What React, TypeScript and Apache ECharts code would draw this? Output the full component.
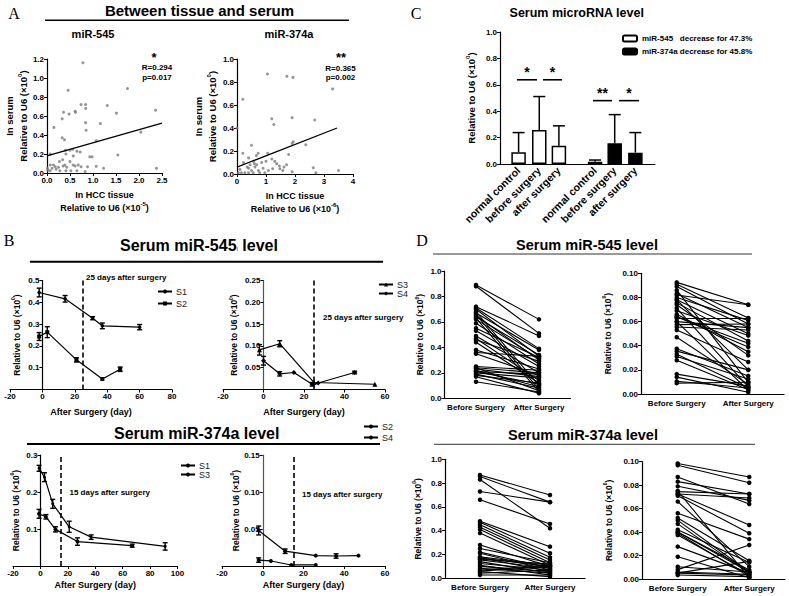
import React, { useEffect, useRef } from 'react';
import * as echarts from 'echarts';

const FONT = '"Liberation Sans", Arial, Helvetica, sans-serif';
const SERIF = '"Liberation Serif", "Times New Roman", serif';

// ---------------- Panel A : tissue vs serum scatter ----------------
const a545Points = [
  [0.78, 1.16], [0.46, 0.87], [1.75, 0.89], [0.74, 0.72], [0.84, 0.72], [0.84, 0.68], [1.31, 0.71],
  [0.61, 0.65], [0.62, 0.64], [0.36, 0.64], [0.48, 0.62], [0.33, 0.57], [2.36, 0.66], [1.51, 0.63],
  [0.84, 0.53], [0.15, 0.48], [0.85, 0.45], [1.16, 0.52], [0.33, 0.37], [0.38, 0.35], [2.04, 0.43],
  [1.07, 0.34], [0.40, 0.24], [0.50, 0.24], [0.56, 0.25], [0.41, 0.20], [0.07, 0.20], [1.54, 0.19],
  [0.93, 0.17], [0.98, 0.17], [0.72, 0.22], [0.65, 0.23], [0.27, 0.12], [0.34, 0.14], [0.50, 0.12],
  [0.57, 0.18], [1.07, 0.07], [1.23, 0.05], [2.38, 0.05], [0.07, 0.084], [0.14, 0.084], [0.18, 0.066],
  [0.11, 0.049], [0.07, 0.024], [0.20, 0.039], [0.25, 0.06], [0.28, 0.024], [0.35, 0.074], [0.39, 0.084],
  [0.43, 0.06], [0.57, 0.084], [0.61, 0.074], [0.41, 0.024], [0.52, 0.024], [0.65, 0.024], [0.74, 0.066],
  [0.68, 0.084], [0.02, 0.03], [0.01, 0.05], [0.83, 0.014], [0.88, 0.066],
];
const a545Fit = [[0, 0.18], [2.5, 0.525]];
const a374Points = [
  [1.05, 0.87], [1.72, 0.85], [1.93, 0.84], [3.3, 0.74], [0.2, 0.65], [1.2, 0.48], [1.27, 0.43],
  [1.9, 0.49], [2.68, 0.47], [0.0, 0.40], [2.37, 0.255], [1.94, 0.28], [1.9, 0.265], [0.5, 0.25],
  [0.2, 0.18], [0.73, 0.18], [1.06, 0.18], [1.78, 0.17], [3.5, 0.03], [2.63, 0.055], [2.72, 0.01],
  [1.9, 0.02], [1.2, 0.13], [1.3, 0.11], [1.37, 0.09], [1.46, 0.07], [1.62, 0.06], [1.48, 0.045],
  [1.23, 0.045], [1.71, 0.08], [0.22, 0.1], [0.4, 0.14], [0.45, 0.08], [0.57, 0.11], [0.68, 0.08],
  [0.4, 0.05], [0.5, 0.03], [0.62, 0.06], [0.74, 0.03], [0.9, 0.05], [0.1, 0.04], [0.15, 0.01],
  [0.27, 0.01], [0.4, 0.01], [0.56, 0.01], [0.78, 0.01], [0.96, 0.01], [1.08, 0.03], [0.67, 0.16],
  [0.35, 0.06], [0.6, 0.09], [0.85, 0.1], [0.05, 0.01], [1.0, 0.11], [1.58, 0.03],
];
const a374Fit = [[0, 0.06], [3.45, 0.40]];

// ---------------- Panel C : bar chart ----------------
const cCategories = ['normal control', 'before surgery', 'after surgery'];
const c545Mean = [0.089, 0.258, 0.139];
const c545Sd = [0.149, 0.253, 0.150];
const c374Mean = [0.017, 0.157, 0.086];
const c374Sd = [0.013, 0.217, 0.152];
const cSigLevels = [0.638, 0.638, 0.48, 0.48];
const cSigLabels = ['*', '*', '**', '*'];
const c545Name = 'miR-545\u00a0\u00a0\u00a0decrease for 47.3%';
const c374Name = 'miR-374a decrease for 45.8%';
// layout slots on the bar chart's value axis
const cSlots545 = [0.9, 1.9, 2.85];
const cSlots374 = [4.6, 5.55, 6.55];
const cSigSpans = [[0.82, 1.79], [2.08, 3.0], [4.5, 5.42], [5.76, 6.73]];

// ---------------- Panel B : time courses [day, value] and SEM ----------------
const bTopS1 = [[-2, 0.445], [14, 0.416], [31, 0.327], [37, 0.292], [60, 0.286]];
const bTopS1Err = [0.02, 0.015, 0.007, 0.013, 0.012];
const bTopS2 = [[-2, 0.243], [3, 0.263], [21, 0.136], [37, 0.048], [48, 0.093]];
const bTopS2Err = [0.018, 0.025, 0.01, 0, 0.01];
const bTopS3 = [[-2, 0.091], [8, 0.105], [25, 0.016], [55, 0.012]];
const bTopS3Err = [0.012, 0.007, 0, 0];
const bTopS4 = [[0, 0.066], [8, 0.036], [15, 0.039], [24, 0.012], [27, 0.015], [45, 0.039]];
const bTopS4Err = [0.01, 0.005, 0, 0.004, 0, 0.003];
const bBotS1 = [[-1, 0.264], [3, 0.24], [9, 0.168], [21, 0.106], [37, 0.078], [91, 0.053]];
const bBotS1Err = [0.008, 0.012, 0.012, 0.015, 0.006, 0.01];
const bBotS3 = [[-1, 0.141], [4, 0.133], [11, 0.099], [27, 0.066], [67, 0.055]];
const bBotS3Err = [0.012, 0.006, 0.007, 0.01, 0.004];
const bBotS2 = [[-2, 0.048], [11, 0.02], [26, 0.014], [36, 0.0135], [47, 0.014]];
const bBotS2Err = [0.006, 0.003, 0, 0.003, 0];
const bBotS4 = [[-2, 0.008], [4, 0.0068], [14, 0.0014], [26, 0.0014]];
const bBotS4Err = [0.003, 0, 0, 0];
const b545Cut = 25;
const b374Cut = 15;

// ---------------- Panel D : paired [before, after] ----------------
const dCats = ['Before Surgery', 'After Surgery'];
const d545Large = [
  [0.89, 0.62], [0.88, 0.51], [0.72, 0.49], [0.71, 0.39], [0.70, 0.33], [0.68, 0.10], [0.67, 0.38],
  [0.66, 0.07], [0.65, 0.30], [0.64, 0.34], [0.63, 0.05], [0.62, 0.31], [0.59, 0.27], [0.55, 0.32],
  [0.53, 0.25], [0.49, 0.20], [0.47, 0.14], [0.46, 0.29], [0.44, 0.12], [0.38, 0.23], [0.36, 0.33],
  [0.35, 0.18], [0.25, 0.22], [0.24, 0.06], [0.23, 0.17], [0.22, 0.09], [0.21, 0.19], [0.20, 0.16],
  [0.19, 0.08], [0.18, 0.12], [0.17, 0.04], [0.13, 0.05], [0.24, 0.20], [0.21, 0.11],
];
const d545Small = [
  [0.0925, 0.074], [0.091, 0.063], [0.089, 0.058], [0.086, 0.0097], [0.083, 0.055], [0.082, 0.074],
  [0.080, 0.061], [0.078, 0.05], [0.0755, 0.044], [0.074, 0.032], [0.071, 0.006], [0.069, 0.0485],
  [0.066, 0.035], [0.064, 0.042], [0.0625, 0.0625], [0.060, 0.055], [0.0575, 0.058], [0.0555, 0.053],
  [0.053, 0.0265], [0.047, 0.008], [0.0375, 0.015], [0.0355, 0.02], [0.033, 0.005], [0.031, 0.0125],
  [0.028, 0.0035], [0.0165, 0.0065], [0.014, 0.0014], [0.0105, 0.005], [0.009, 0.0097], [0.064, 0.039],
  [0.06, 0.003], [0.078, 0.02],
];
const d374Large = [
  [0.868, 0.70], [0.855, 0.64], [0.83, 0.42], [0.73, 0.64], [0.66, 0.457], [0.48, 0.266], [0.47, 0.21],
  [0.45, 0.176], [0.43, 0.154], [0.41, 0.13], [0.38, 0.11], [0.28, 0.10], [0.25, 0.13], [0.22, 0.084],
  [0.21, 0.07], [0.18, 0.11], [0.175, 0.056], [0.17, 0.10], [0.155, 0.084], [0.14, 0.042], [0.125, 0.07],
  [0.11, 0.028], [0.10, 0.056], [0.085, 0.042], [0.07, 0.11], [0.056, 0.014], [0.042, 0.07],
  [0.028, 0.028], [0.06, 0.10], [0.16, 0.12],
];
const d374Small = [
  [0.0985, 0.087], [0.097, 0.082], [0.087, 0.064], [0.083, 0.0725], [0.079, 0.067], [0.0745, 0.0725],
  [0.0725, 0.046], [0.071, 0.039], [0.066, 0.0105], [0.056, 0.034], [0.052, 0.0156], [0.05, 0.006],
  [0.047, 0.005], [0.042, 0.014], [0.04, 0.0077], [0.039, 0.002], [0.0375, 0.0034], [0.0276, 0.005],
  [0.019, 0.001], [0.0105, 0.006], [0.008, 0.029], [0.006, 0.004], [0.005, 0.0034], [0.0034, 0.002],
  [0.0725, 0.069], [0.075, 0.001], [0.04, 0.006], [0.005, 0.015],
];

// ---------------- helpers ----------------
const BLACK = '#000';
const nameStyle = (size: number) => ({
  color: BLACK, fontSize: size, fontWeight: 'bold', fontFamily: FONT, lineHeight: size + 4,
  rich: {
    sup: { fontSize: Math.round(size * 0.62), fontWeight: 'bold', fontFamily: FONT, color: BLACK, verticalAlign: 'top', lineHeight: size + 4, padding: [0, 0, 4, 0] },
  },
});

function vAxis(grid: number, min: number, max: number, interval: number, fmt: (v: number) => string, extra: any = {}) {
  return {
    type: 'value', gridIndex: grid, min, max, interval,
    offset: extra.offset || 0,
    axisLine: { show: true, onZero: false, lineStyle: { color: extra.lineColor || BLACK, width: 1.2 } },
    axisTick: { show: extra.tick !== false, length: 3, lineStyle: { color: BLACK, width: 1 } },
    axisLabel: { show: extra.label !== false, color: BLACK, fontSize: 8, fontWeight: 'bold', fontFamily: FONT, margin: 3, formatter: fmt },
    splitLine: { show: false },
    name: extra.name,
    nameLocation: 'middle',
    nameGap: extra.nameGap,
    nameRotate: extra.nameRotate,
    nameMoveOverlap: false,
    nameTextStyle: nameStyle(extra.nameSize || 9),
  };
}
const fx = (d: number) => (v: number) => v.toFixed(d);
const fxNoZero = (d: number) => (v: number) => (Math.abs(v) < 1e-9 ? '' : v.toFixed(d));
const Y_NAME = 'Relative to U6 (\u00d710{sup|0})';

function errSeries(x: number, pts: number[][], errs: number[], capHalf = 2.5) {
  return {
    type: 'custom', xAxisIndex: x, yAxisIndex: x, z: 4,
    data: pts.map((p, i) => [p[0], p[1], errs[i]]),
    encode: { x: 0, y: 1 },
    renderItem: (params: any, api: any) => {
      const e = api.value(2);
      if (!e) return { type: 'group', children: [] };
      const top = api.coord([api.value(0), api.value(1) + e]);
      const bot = api.coord([api.value(0), api.value(1) - e]);
      const st = { stroke: BLACK, lineWidth: 1.4 };
      return {
        type: 'group', children: [
          { type: 'line', shape: { x1: top[0], y1: top[1], x2: bot[0], y2: bot[1] }, style: st },
          { type: 'line', shape: { x1: top[0] - capHalf, y1: top[1], x2: top[0] + capHalf, y2: top[1] }, style: st },
          { type: 'line', shape: { x1: bot[0] - capHalf, y1: bot[1], x2: bot[0] + capHalf, y2: bot[1] }, style: st },
        ],
      };
    },
  };
}

function courseSeries(x: number, name: string, pts: number[][], symbol: string, size: number, cut?: number) {
  const s: any = {
    type: 'line', name, xAxisIndex: x, yAxisIndex: x, data: pts, symbol, symbolSize: size,
    lineStyle: { color: BLACK, width: 1.2 }, itemStyle: { color: BLACK }, z: 3,
  };
  if (cut !== undefined) {
    s.markLine = {
      silent: true, symbol: ['none', 'none'], label: { show: false },
      lineStyle: { color: BLACK, width: 1.6, type: [5, 3] },
      data: [{ xAxis: cut }],
    };
  }
  return s;
}

function pairSeries(x: number, pairs: number[][]) {
  return pairs.map((p) => ({
    type: 'line', xAxisIndex: x, yAxisIndex: x, data: [p[0], p[1]],
    symbol: 'circle', symbolSize: 4.5,
    lineStyle: { color: BLACK, width: 1.1 }, itemStyle: { color: BLACK },
  }));
}

const legendFmt = (n: string) => n.split('#')[0];
function courseLegend(left: number, top: number, names: string[], gap: number) {
  return {
    left, top, orient: 'vertical', padding: 0, itemGap: gap, itemWidth: 14, itemHeight: 5,
    selectedMode: false, data: names, formatter: legendFmt,
    textStyle: { color: '#222', fontSize: 9, fontFamily: FONT, padding: [0, 0, 0, -1] },
  };
}

function txt(x: number, y: number, text: string, font: string, align = 'center', extra: any = {}) {
  return { type: 'text', x, y, silent: true, style: { text, fill: BLACK, font, align, verticalAlign: 'middle', ...extra } };
}
function hline(x1: number, x2: number, y: number, w: number, color = BLACK) {
  return { type: 'line', silent: true, shape: { x1, y1: y, x2, y2: y }, style: { stroke: color, lineWidth: w } };
}

// layout of the four time-course grids: [left, top, width, height, xMin, xMax]
const bLayout = [
  [10, 280.5, 162, 109, -20, 80],
  [223, 280.5, 162, 109, -20, 60],
  [13, 455, 164.5, 111, -20, 100],
  [222, 455, 163, 111, -20, 60],
];
// the y axis sits on day 0: shift it into the grid
const zeroOffset = (i: number) => {
  const [, , w, , mn, mx] = bLayout[i];
  return -(w * (0 - mn)) / (mx - mn);
};

function buildOption() {
  const g = (left: number, top: number, width: number, height: number) => ({
    left, top, width, height, containLabel: false, outerBoundsMode: 'none',
  });
  const grids = [
    g(47, 59, 115, 114),      // 0 A left
    g(237, 59, 116, 115),     // 1 A right
    g(500, 32, 155, 132),     // 2 C
    ...bLayout.map((b) => g(b[0], b[1], b[2], b[3])), // 3..6 B
    g(444.5, 271, 126, 127.3),  // 7 D top-left
    g(641, 273.3, 143, 120.7),  // 8 D top-right
    g(445, 459.3, 140, 119),    // 9 D bottom-left
    g(642, 461.7, 143, 117.3),  // 10 D bottom-right
  ];

  const allSlots = [...cSlots545, ...cSlots374];
  const slotName = (v: number) => {
    const i = allSlots.findIndex((s) => Math.abs(s - v) < 1e-6);
    return i < 0 ? '' : cCategories[i % 3];
  };

  const dAxis = (gi: number) => ({
    type: 'category', gridIndex: gi, data: dCats, boundaryGap: true,
    axisLine: { show: true, lineStyle: { color: BLACK, width: 1.2 } },
    axisTick: { show: false },
    axisLabel: { color: BLACK, fontSize: 8, fontWeight: 'bold', fontFamily: FONT, margin: 5, interval: 0 },
  });

  const xAxis: any[] = [
    vAxis(0, 0, 2.5, 0.5, fx(1), { name: 'In HCC tissue\nRelative to U6 (\u00d710{sup|-5})', nameGap: 15 }),
    vAxis(1, 0, 4, 1, fx(0), { name: 'In HCC tissue\nRelative to U6 (\u00d710{sup|-6})', nameGap: 15 }),
    {
      type: 'value', gridIndex: 2, min: 0, max: 7.5,
      axisLine: { show: true, onZero: false, lineStyle: { color: BLACK, width: 1.2 } },
      axisTick: { show: false },
      splitLine: { show: false },
      axisLabel: {
        customValues: allSlots, formatter: slotName, rotate: 45, margin: 5,
        color: BLACK, fontSize: 10.5, fontWeight: 'bold', fontFamily: FONT,
      },
    },
    vAxis(3, bLayout[0][4], bLayout[0][5], 20, fx(0), { name: 'After Surgery (day)', nameGap: 16 }),
    vAxis(4, bLayout[1][4], bLayout[1][5], 20, fx(0), { name: 'After Surgery (day)', nameGap: 16 }),
    vAxis(5, bLayout[2][4], bLayout[2][5], 20, fx(0), { name: 'After Surgery (day)', nameGap: 12 }),
    vAxis(6, bLayout[3][4], bLayout[3][5], 20, fx(0), { name: 'After Surgery (day)', nameGap: 12 }),
    dAxis(7), dAxis(8), dAxis(9), dAxis(10),
  ];

  const yAxis: any[] = [
    vAxis(0, 0, 1.2, 0.2, fx(1), { name: 'In serum\n' + Y_NAME, nameGap: 17, nameRotate: 90, nameSize: 9.5 }),
    vAxis(1, 0, 1.0, 0.2, fx(1), { name: 'In serum\n' + Y_NAME, nameGap: 18, nameRotate: 90, nameSize: 9.5 }),
    vAxis(2, 0, 1.0, 0.2, fx(1), { name: Y_NAME, nameGap: 22, nameRotate: 90, nameSize: 9.5 }),
    vAxis(3, 0, 0.5, 0.1, fxNoZero(1), { name: Y_NAME, nameGap: 19, nameRotate: 90, nameSize: 8.5, offset: zeroOffset(0) }),
    vAxis(4, 0, 0.25, 0.05, fxNoZero(2), { name: Y_NAME, nameGap: 23, nameRotate: 90, nameSize: 8.5, offset: zeroOffset(1), lineColor: '#555' }),
    vAxis(5, 0, 0.3, 0.1, fxNoZero(1), { name: Y_NAME, nameGap: 18, nameRotate: 90, nameSize: 8.5, offset: zeroOffset(2) }),
    vAxis(6, 0, 0.15, 0.05, fxNoZero(2), { name: Y_NAME, nameGap: 21, nameRotate: 90, nameSize: 8.5, offset: zeroOffset(3), lineColor: '#555' }),
    vAxis(7, 0, 1.0, 0.2, fx(1), { name: Y_NAME, nameGap: 18, nameRotate: 90, nameSize: 8.5 }),
    vAxis(8, 0, 0.1, 0.02, fx(2), { name: Y_NAME, nameGap: 27, nameRotate: 90, nameSize: 8.5 }),
    vAxis(9, 0, 1.0, 0.2, fx(1), { name: Y_NAME, nameGap: 21, nameRotate: 90, nameSize: 8.5 }),
    vAxis(10, 0, 0.1, 0.02, fx(2), { name: Y_NAME, nameGap: 27, nameRotate: 90, nameSize: 8.5 }),
  ];

  const scatterStyle = { color: '#7a7a7a' };
  const fitLine = (gi: number, d: number[][]) => ({
    type: 'line', xAxisIndex: gi, yAxisIndex: gi, data: d, symbol: 'none', z: 3,
    lineStyle: { color: BLACK, width: 1.3 },
  });

  const cBars = (name: string, slots: number[], means: number[], fill: string) => ({
    type: 'bar', name, xAxisIndex: 2, yAxisIndex: 2, barWidth: 14.5, barGap: '-100%',
    data: slots.map((s, i) => [s, means[i]]),
    itemStyle: { color: fill, borderColor: BLACK, borderWidth: 1.5 },
  });
  const cErr = {
    type: 'custom', xAxisIndex: 2, yAxisIndex: 2, z: 4, encode: { x: 0, y: 1 },
    data: [
      ...cSlots545.map((s, i) => [s, c545Mean[i], c545Sd[i]]),
      ...cSlots374.map((s, i) => [s, c374Mean[i], c374Sd[i]]),
    ],
    renderItem: (params: any, api: any) => {
      const base = api.coord([api.value(0), api.value(1)]);
      const top = api.coord([api.value(0), api.value(1) + api.value(2)]);
      const st = { stroke: BLACK, lineWidth: 1.5 };
      return {
        type: 'group', children: [
          { type: 'line', shape: { x1: base[0], y1: base[1], x2: top[0], y2: top[1] }, style: st },
          { type: 'line', shape: { x1: top[0] - 6, y1: top[1], x2: top[0] + 6, y2: top[1] }, style: st },
        ],
      };
    },
  };
  const cSig = {
    type: 'custom', xAxisIndex: 2, yAxisIndex: 2, z: 5, encode: { x: 0, y: 2 },
    data: cSigSpans.map((sp, i) => [sp[0], sp[1], cSigLevels[i]]),
    renderItem: (params: any, api: any) => {
      const a = api.coord([api.value(0), api.value(2)]);
      const b = api.coord([api.value(1), api.value(2)]);
      return {
        type: 'group', children: [
          { type: 'line', shape: { x1: a[0], y1: a[1], x2: b[0], y2: b[1] }, style: { stroke: BLACK, lineWidth: 1.6 } },
          {
            type: 'text', x: (a[0] + b[0]) / 2, y: a[1] - 1,
            style: { text: cSigLabels[params.dataIndex], fill: BLACK, font: `bold 14px ${FONT}`, align: 'center', verticalAlign: 'bottom' },
          },
        ],
      };
    },
  };

  const series: any[] = [
    { type: 'scatter', xAxisIndex: 0, yAxisIndex: 0, data: a545Points, symbol: 'circle', symbolSize: 3, itemStyle: scatterStyle },
    fitLine(0, a545Fit),
    { type: 'scatter', xAxisIndex: 1, yAxisIndex: 1, data: a374Points, symbol: 'circle', symbolSize: 3, itemStyle: scatterStyle },
    fitLine(1, a374Fit),
    cBars(c545Name, cSlots545, c545Mean, '#fff'),
    cBars(c374Name, cSlots374, c374Mean, '#000'),
    cErr, cSig,
    courseSeries(3, 'S1#tl', bTopS1, 'circle', 3.5, b545Cut),
    courseSeries(3, 'S2#tl', bTopS2, 'rect', 4),
    errSeries(3, bTopS1, bTopS1Err), errSeries(3, bTopS2, bTopS2Err),
    courseSeries(4, 'S3#tr', bTopS3, 'triangle', 5, b545Cut),
    courseSeries(4, 'S4#tr', bTopS4, 'diamond', 5),
    errSeries(4, bTopS3, bTopS3Err), errSeries(4, bTopS4, bTopS4Err),
    courseSeries(5, 'S1#bl', bBotS1, 'circle', 3, b374Cut),
    courseSeries(5, 'S3#bl', bBotS3, 'circle', 4),
    errSeries(5, bBotS1, bBotS1Err), errSeries(5, bBotS3, bBotS3Err),
    courseSeries(6, 'S2#br', bBotS2, 'circle', 4, b374Cut),
    courseSeries(6, 'S4#br', bBotS4, 'circle', 4),
    errSeries(6, bBotS2, bBotS2Err), errSeries(6, bBotS4, bBotS4Err),
    ...pairSeries(7, d545Large),
    ...pairSeries(8, d545Small),
    ...pairSeries(9, d374Large),
    ...pairSeries(10, d374Small),
  ];

  const legend: any[] = [
    {
      left: 622, top: 34.5, orient: 'vertical', padding: 0, itemGap: 5, itemWidth: 14, itemHeight: 6,
      selectedMode: false, data: [c545Name, c374Name],
      textStyle: { color: BLACK, fontSize: 8, fontWeight: 'bold', fontFamily: FONT },
    },
    courseLegend(157, 287, ['S1#tl', 'S2#tl'], 3),
    courseLegend(378, 280, ['S3#tr', 'S4#tr'], 0),
    courseLegend(180, 461, ['S1#bl', 'S3#bl'], 0),
    courseLegend(363, 422, ['S2#br', 'S4#br'], 2),
  ];

  const letter = `16px ${SERIF}`;
  const graphic: any[] = [
    txt(14, 13, 'A', letter),
    txt(416, 13, 'C', letter),
    txt(9, 240, 'B', letter),
    txt(422, 240, 'D', letter),
    txt(199.5, 10, 'Between tissue and serum', `bold 15px ${FONT}`),
    hline(45, 349, 20.3, 1.5),
    txt(93, 34, 'miR-545', `bold 11px ${FONT}`),
    txt(289, 34, 'miR-374a', `bold 11px ${FONT}`),
    txt(154, 57, '*', `bold 13px ${FONT}`),
    txt(157, 67.5, 'R=0.294', `bold 8px ${FONT}`),
    txt(157, 77, 'p=0.017', `bold 8px ${FONT}`),
    txt(341, 57, '**', `bold 13px ${FONT}`),
    txt(340.5, 68.5, 'R=0.365', `bold 8px ${FONT}`),
    txt(340.5, 77.5, 'p=0.002', `bold 8px ${FONT}`),
    txt(576.7, 13, 'Serum microRNA level', `bold 12.5px ${FONT}`),
    {
      type: 'text', x: 199, y: 245.5, silent: true,
      style: {
        text: '{t|Serum miR-545}{s|I}{t| level}', align: 'center', verticalAlign: 'middle',
        rich: {
          t: { fill: BLACK, font: `bold 16px ${FONT}` },
          s: { fill: BLACK, font: `5px ${FONT}`, verticalAlign: 'bottom', padding: [0, 0, 2, 0] },
        },
      },
    },
    hline(30, 383, 261.7, 2),
    txt(196.7, 433, 'Serum miR-374a level', `bold 16px ${FONT}`),
    hline(27, 380, 444, 2),
    txt(587, 245, 'Serum miR-545 level', `bold 14.5px ${FONT}`),
    hline(433, 752, 254, 1, '#333'),
    txt(583, 435, 'Serum miR-374a level', `bold 14.5px ${FONT}`),
    hline(434, 755, 444.3, 1, '#333'),
    txt(86, 277.5, '25 days after surgery', `bold 8px ${FONT}`, 'left'),
    txt(323, 317.5, '25 days after surgery', `bold 8px ${FONT}`, 'left'),
    txt(69.5, 492, '15 days after surgery', `bold 8px ${FONT}`, 'left'),
    txt(302, 494, '15 days after surgery', `bold 8px ${FONT}`, 'left'),
  ];

  return {
    animation: false,
    backgroundColor: '#fff',
    grid: grids,
    xAxis, yAxis, series, legend, graphic,
  };
}

export default function App() {
  const ref = useRef<HTMLDivElement>(null);
  useEffect(() => {
    if (!ref.current) return;
    const chart = echarts.init(ref.current, undefined, { renderer: 'svg' });
    chart.setOption(buildOption() as any);
    return () => chart.dispose();
  }, []);
  return (
    <div
      ref={ref}
      style={{ position: 'absolute', left: 0, top: 0, width: 789, height: 596, background: '#fff' }}
    />
  );
}
